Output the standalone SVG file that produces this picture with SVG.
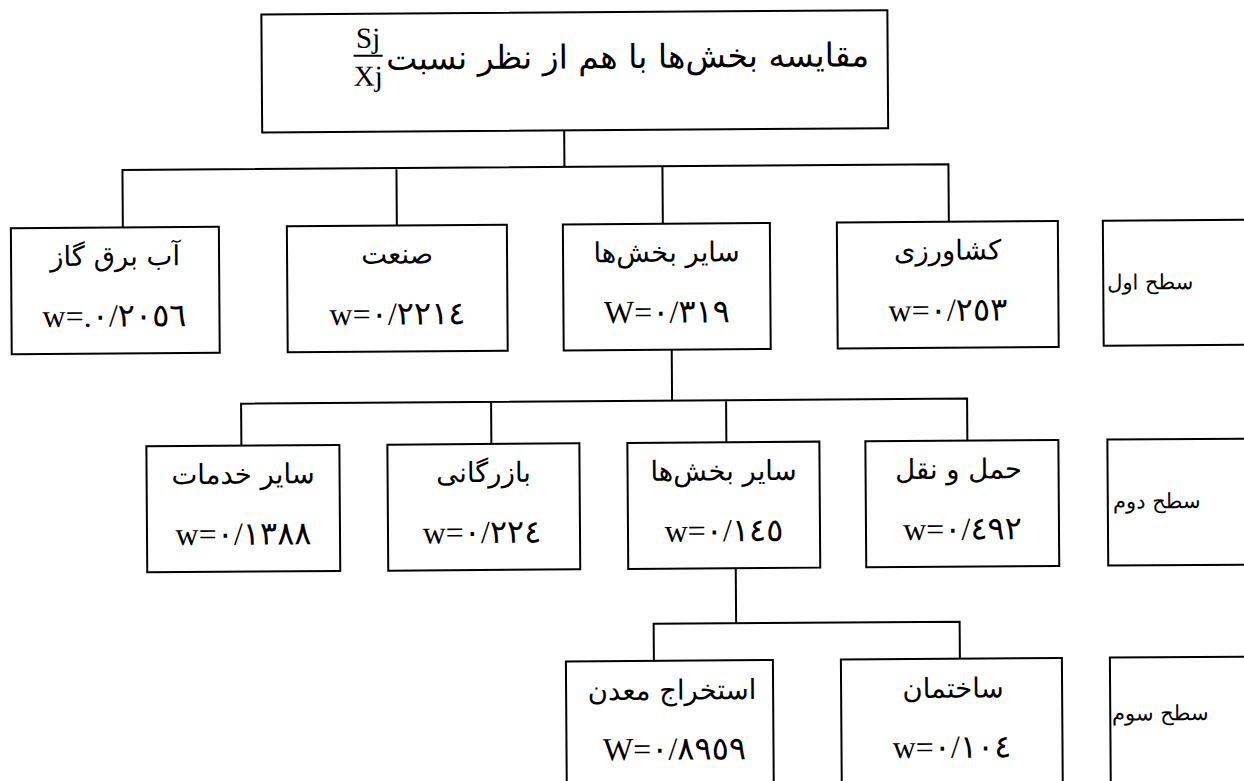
<svg xmlns="http://www.w3.org/2000/svg" width="1244" height="781" viewBox="0 0 1244 781">
<style>
.box{fill:#fff;stroke:#000;stroke-width:2}
.ln{fill:none;stroke:#000;stroke-width:2}
.fa{font-family:"DejaVu Sans",sans-serif;font-size:27.5px;fill:#000;text-anchor:middle}
.lv{font-family:"DejaVu Sans",sans-serif;font-size:21px;fill:#000;text-anchor:middle}
.w{font-family:"Liberation Serif","DejaVu Sans",serif;font-size:32px;fill:#000;text-anchor:middle}
.frac{font-family:"Liberation Serif",serif;font-size:29px;fill:#000;text-anchor:middle}
</style>
<rect width="1244" height="781" fill="#fff"/>
<g transform="rotate(-0.4 622 390)">
<g id="connectors" class="ln">
<path d="M566 130V166.5M124 224V166.5H950V224M398 166.5V224M664 166.5V224"/>
<path d="M672 350V401M241 443V401H967V443M491 401V443M726 401V443"/>
<path d="M734.5 569V624M652 661V624H958V661"/>
</g>
<g id="root">
<rect class="box" x="264" y="12" width="626" height="118"/>
<text class="frac" x="370.5" y="46">Sj</text>
<line class="ln" x1="356" y1="54" x2="385" y2="54"/>
<text class="frac" x="370.5" y="84">Xj</text>
<text class="fa" x="630" y="68" direction="rtl" style="font-size:33px">مقایسه بخش‌ها با هم از نظر نسبت</text>
</g>
<g id="n1"><rect class="box" x="12" y="224" width="208" height="126"/><text class="fa" x="116" y="262" direction="rtl">آب برق گاز</text><text class="w" x="115" y="323">w=.٠/٢٠٥٦</text></g>
<g id="n2"><rect class="box" x="288" y="224" width="220" height="126"/><text class="fa" x="398" y="262" direction="rtl">صنعت</text><text class="w" x="398" y="323">w=٠/٢٢١٤</text></g>
<g id="n3"><rect class="box" x="564" y="224" width="207" height="126"/><text class="fa" x="667.5" y="262" direction="rtl">سایر بخش‌ها</text><text class="w" x="667.5" y="323">W=٠/٣١٩</text></g>
<g id="n4"><rect class="box" x="838" y="224" width="221" height="126"/><text class="fa" x="948.5" y="262" direction="rtl">کشاورزی</text><text class="w" x="948.5" y="323">w=٠/٢٥٣</text></g>
<g id="level1"><rect class="box" x="1104" y="224" width="200" height="125"/><text class="lv" x="1151" y="293" direction="rtl">سطح اول</text></g>
<g id="n5"><rect class="box" x="146" y="443" width="193" height="126"/><text class="fa" x="242.5" y="481" direction="rtl">سایر خدمات</text><text class="w" x="242.5" y="542">w=٠/١٣٨٨</text></g>
<g id="n6"><rect class="box" x="387" y="443" width="192" height="126"/><text class="fa" x="483" y="481" direction="rtl">بازرگانی</text><text class="w" x="481" y="542">w=٠/٢٢٤</text></g>
<g id="n7"><rect class="box" x="627" y="443" width="192" height="126"/><text class="fa" x="723" y="481" direction="rtl">سایر بخش‌ها</text><text class="w" x="723" y="542">w=٠/١٤٥</text></g>
<g id="n8"><rect class="box" x="865" y="443" width="193" height="126"/><text class="fa" x="958" y="481" direction="rtl">حمل و نقل</text><text class="w" x="961.5" y="542">w=٠/٤٩٢</text></g>
<g id="level2"><rect class="box" x="1107" y="443" width="200" height="126"/><text class="lv" x="1156" y="512" direction="rtl">سطح دوم</text></g>
<g id="n9"><rect class="box" x="564" y="661" width="207" height="160"/><text class="fa" x="670" y="700" direction="rtl">استخراج معدن</text><text class="w" x="672" y="760">W=٠/٨٩٥٩</text></g>
<g id="n10"><rect class="box" x="839" y="661" width="221" height="160"/><text class="fa" x="951" y="700" direction="rtl">ساختمان</text><text class="w" x="949.5" y="760">w=٠/١٠٤</text></g>
<g id="level3"><rect class="box" x="1108" y="661" width="200" height="160"/><text class="lv" x="1158" y="724" direction="rtl">سطح سوم</text></g>
</g>
</svg>
